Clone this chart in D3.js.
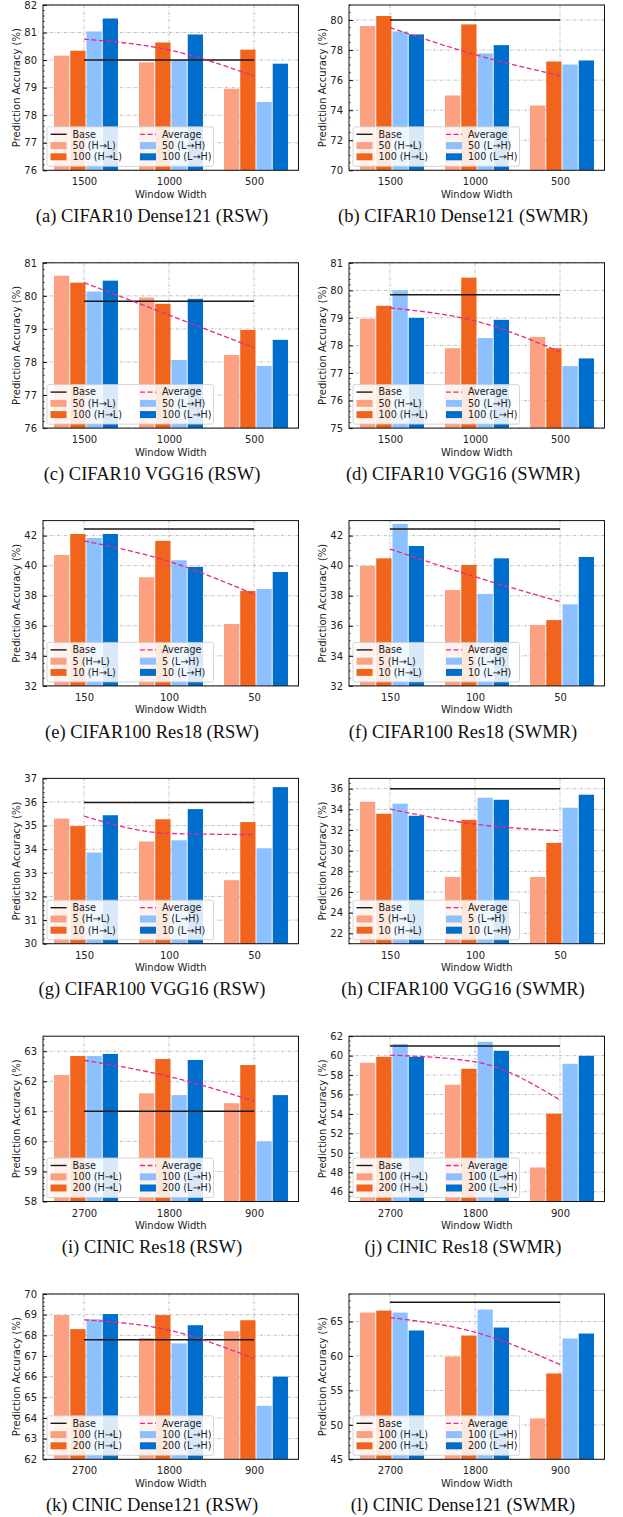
<!DOCTYPE html>
<html><head><meta charset="utf-8">
<script src="https://cdn.jsdelivr.net/npm/d3@7"></script>
<style>body{margin:0;background:#fff} svg{display:block}</style>
</head><body>
<svg id="fig" width="623" height="1517"></svg>
<script>
// values (series order: lo H->L, hi H->L, lo L->H, hi L->H)
const winCifar10 = ['1500', '1000', '500'];
const winCifar100 = ['150', '100', '50'];
const winCinic = ['2700', '1800', '900'];
const legCifar10 = ['50 (H→L)', '100 (H→L)', '50 (L→H)', '100 (L→H)'];
const legCifar100 = ['5 (H→L)', '10 (H→L)', '5 (L→H)', '10 (L→H)'];
const legCinic = ['100 (H→L)', '200 (H→L)', '100 (L→H)', '200 (L→H)'];

const valsA = [[80.16, 79.92, 78.96], [80.34, 80.64, 80.38], [81.04, 80.0, 78.48], [81.51, 80.93, 79.87]];
const avgA = [80.76, 80.37, 79.42];
const valsB = [[79.6, 74.98, 74.31], [80.27, 79.71, 77.24], [79.24, 77.78, 77.04], [79.04, 78.33, 77.31]];
const avgB = [79.5, 77.7, 76.3];
const valsC = [[80.61, 79.95, 78.21], [80.40, 79.76, 78.97], [80.13, 78.06, 77.88], [80.46, 79.91, 78.67]];
const avgC = [80.4, 79.42, 78.43];
const valsD = [[78.97, 77.9, 78.31], [79.44, 80.46, 77.9], [80.0, 78.27, 77.25], [79.0, 78.93, 77.53]];
const avgD = [79.36, 78.89, 77.77];
const valsE = [[40.71, 39.23, 36.12], [42.11, 41.65, 38.32], [41.84, 40.36, 38.45], [42.11, 39.92, 39.58]];
const avgE = [41.65, 40.28, 38.1];
const valsF = [[39.98, 38.38, 36.05], [40.49, 40.05, 36.38], [42.78, 38.12, 37.43], [41.31, 40.49, 40.58]];
const avgF = [41.11, 39.26, 37.61];
const valsG = [[35.30, 34.33, 32.69], [34.98, 35.27, 35.15], [33.86, 34.38, 34.04], [35.44, 35.70, 36.63]];
const avgG = [35.4, 34.67, 34.62];
const valsH = [[34.74, 27.46, 27.46], [33.58, 32.99, 30.76], [34.55, 35.13, 34.16], [33.38, 34.93, 35.42]];
const avgH = [34.03, 32.57, 31.93];
const valsI = [[62.21, 61.6, 61.27], [62.84, 62.74, 62.54], [62.84, 61.54, 60.0], [62.91, 62.71, 61.54]];
const avgI = [62.7, 62.16, 61.34];
const valsJ = [[59.26, 57.01, 48.5], [59.88, 58.65, 54.03], [61.21, 61.42, 59.16], [59.88, 60.5, 59.98]];
const avgJ = [60.05, 59.37, 55.44];
const valsK = [[68.98, 67.86, 68.2], [68.30, 68.98, 68.73], [68.78, 67.61, 64.59], [69.03, 68.49, 66.0]];
const avgK = [68.75, 68.25, 66.87];
const valsL = [[66.3, 59.93, 50.94], [66.59, 62.97, 57.46], [66.3, 66.74, 62.54], [63.7, 64.13, 63.26]];
const avgL = [65.58, 63.45, 58.77];

const baseVals = [80.0, 80.0, 79.84, 79.84, 42.44, 42.44, 35.98, 36.0, 61.0, 61.0, 67.79, 67.8];
const yDomains = [[76, 82], [70, 81], [76, 81], [75, 81], [32, 43], [32, 43], [30, 37], [21, 37], [58, 63.5], [45, 62], [62, 70], [45, 69]];
const yStep = [1, 2, 1, 1, 2, 2, 1, 2, 1, 2, 1, 5];
const captions = ['(a) CIFAR10 Dense121 (RSW)', '(b) CIFAR10 Dense121 (SWMR)', '(c) CIFAR10 VGG16 (RSW)', '(d) CIFAR10 VGG16 (SWMR)',
  '(e) CIFAR100 Res18 (RSW)', '(f) CIFAR100 Res18 (SWMR)', '(g) CIFAR100 VGG16 (RSW)', '(h) CIFAR100 VGG16 (SWMR)',
  '(i) CINIC Res18 (RSW)', '(j) CINIC Res18 (SWMR)', '(k) CINIC Dense121 (RSW)', '(l) CINIC Dense121 (SWMR)'];

const colors = ['#fca082', '#f0641e', '#8cc0ff', '#006ecd'];
const avgColor = '#e6288c';

const panels = [
  [valsA, avgA, winCifar10, legCifar10], [valsB, avgB, winCifar10, legCifar10],
  [valsC, avgC, winCifar10, legCifar10], [valsD, avgD, winCifar10, legCifar10],
  [valsE, avgE, winCifar100, legCifar100], [valsF, avgF, winCifar100, legCifar100],
  [valsG, avgG, winCifar100, legCifar100], [valsH, avgH, winCifar100, legCifar100],
  [valsI, avgI, winCinic, legCinic], [valsJ, avgJ, winCinic, legCinic],
  [valsK, avgK, winCinic, legCinic], [valsL, avgL, winCinic, legCinic]
].map((p, i) => ({vals: p[0], avg: p[1], wins: p[2], leg: p[3], base: baseVals[i],
  dom: yDomains[i], step: yStep[i], cap: captions[i], col: i % 2, row: Math.floor(i / 2)}));

const svg = d3.select('#fig');
const W = 255.5, H = 165.3;
const font = 'DejaVu Sans, sans-serif';

panels.forEach((p, idx) => {
  const left = p.col ? 349 : 43;
  const top = 5 + p.row * 257.8;
  const g = svg.append('g').attr('transform', `translate(${left},${top})`);

  const x = d3.scalePoint().domain(p.wins).range([41, 211]);
  const inner = d3.scaleBand().domain(d3.range(4)).range([-30, 34]).paddingInner(0.06);
  const y = d3.scaleLinear().domain(p.dom).range([H, 0]);
  const t0 = Math.ceil(p.dom[0] / p.step) * p.step;
  const ticks = d3.range(t0, p.dom[1] + 1e-9, p.step);
  const nMinor = p.step === 2 ? 4 : 5;
  const minor = d3.range(p.dom[0], p.dom[1] + 1e-9, p.step / nMinor)
    .filter(v => !ticks.some(t => Math.abs(t - v) < 1e-6));

  const clipId = 'clip' + idx;
  g.append('clipPath').attr('id', clipId).append('rect').attr('width', W).attr('height', H);

  // grid
  const grid = g.append('g').attr('stroke', '#b0b0b0').attr('stroke-width', 0.8).attr('stroke-dasharray', '3,1.5,1,1.5');
  grid.selectAll('.gy').data(ticks).join('line')
    .attr('x1', 0).attr('x2', W).attr('y1', d => y(d)).attr('y2', d => y(d));
  grid.selectAll('.gx').data(p.wins).join('line')
    .attr('x1', d => x(d)).attr('x2', d => x(d)).attr('y1', 0).attr('y2', H);

  // bars
  const barG = g.append('g').attr('clip-path', `url(#${clipId})`);
  p.vals.forEach((series, si) => {
    barG.selectAll('.b' + si).data(series).join('rect')
      .attr('x', (d, wi) => x(p.wins[wi]) + inner(si))
      .attr('width', inner.bandwidth())
      .attr('y', d => y(d))
      .attr('height', d => H - y(d))
      .attr('fill', colors[si]);
  });

  // base and average
  g.append('line').attr('x1', x(p.wins[0])).attr('x2', x(p.wins[2]))
    .attr('y1', y(p.base)).attr('y2', y(p.base)).attr('stroke', '#1a1a1a').attr('stroke-width', 1.5);
  const line = d3.line().x((d, i) => x(p.wins[i])).y(d => y(d)).curve(d3.curveMonotoneX);
  g.append('path').attr('d', line(p.avg)).attr('fill', 'none').attr('stroke', avgColor)
    .attr('stroke-width', 1.3).attr('stroke-dasharray', '5,2.5');

  // legend
  const lg = g.append('g').attr('transform', `translate(4,${H - 43.5})`);
  lg.append('rect').attr('width', 166.5).attr('height', 39.5).attr('rx', 2)
    .attr('fill', 'white').attr('fill-opacity', 0.85).attr('stroke', '#cccccc').attr('stroke-width', 0.8);
  const rowY = [7.5, 18.8, 30];
  const colX = [3.5, 93];
  const items = [
    {c: 0, r: 0, t: 'Base', kind: 'base'}, {c: 1, r: 0, t: 'Average', kind: 'avg'},
    {c: 0, r: 1, t: p.leg[0], kind: 0}, {c: 1, r: 1, t: p.leg[2], kind: 2},
    {c: 0, r: 2, t: p.leg[1], kind: 1}, {c: 1, r: 2, t: p.leg[3], kind: 3}
  ];
  items.forEach(it => {
    const ix = colX[it.c], iy = rowY[it.r];
    if (it.kind === 'base') {
      lg.append('line').attr('x1', ix).attr('x2', ix + 16).attr('y1', iy).attr('y2', iy)
        .attr('stroke', '#1a1a1a').attr('stroke-width', 1.4);
    } else if (it.kind === 'avg') {
      lg.append('line').attr('x1', ix).attr('x2', ix + 16).attr('y1', iy).attr('y2', iy)
        .attr('stroke', avgColor).attr('stroke-width', 1.3).attr('stroke-dasharray', '5,2.5');
    } else {
      lg.append('rect').attr('x', ix).attr('y', iy - 3.5).attr('width', 16).attr('height', 7)
        .attr('fill', colors[it.kind]);
    }
    lg.append('text').attr('x', ix + 22).attr('y', iy + 3.4).text(it.t)
      .attr('font-family', font).attr('font-size', 9.6).attr('fill', '#222');
  });

  // frame
  g.append('rect').attr('width', W).attr('height', H).attr('fill', 'none')
    .attr('stroke', '#111').attr('stroke-width', 1);

  // y axis
  const ya = g.append('g').call(d3.axisLeft(y).tickValues(ticks).tickSize(-4).tickPadding(6).tickFormat(d3.format('d')));
  ya.select('.domain').remove();
  ya.selectAll('text').attr('font-family', font).attr('font-size', 10).attr('fill', '#222');
  ya.selectAll('line').attr('stroke', '#111');
  g.append('g').selectAll('line').data(minor).join('line')
    .attr('x1', 0).attr('x2', 2).attr('y1', d => y(d)).attr('y2', d => y(d))
    .attr('stroke', '#111').attr('stroke-width', 0.6);

  // x axis
  const xa = g.append('g').attr('transform', `translate(0,${H})`)
    .call(d3.axisBottom(x).tickSize(0).tickPadding(8));
  xa.select('.domain').remove();
  xa.selectAll('text').attr('font-family', font).attr('font-size', 10).attr('fill', '#222');

  g.append('text').attr('x', W / 2).attr('y', H + 27.5).attr('text-anchor', 'middle')
    .attr('font-family', font).attr('font-size', 10).attr('fill', '#222').text('Window Width');
  g.append('text').attr('transform', `translate(${-23},${H / 2}) rotate(-90)`)
    .attr('text-anchor', 'middle').attr('font-family', font).attr('font-size', 10)
    .attr('fill', '#222').text('Prediction Accuracy (%)');

  // caption
  svg.append('text').attr('x', p.col ? 463 : 152).attr('y', top + 217)
    .attr('text-anchor', 'middle').attr('font-family', 'Liberation Serif, Times New Roman, serif')
    .attr('font-size', 18.5).attr('fill', '#111').text(p.cap);
});
</script>
</body></html>
